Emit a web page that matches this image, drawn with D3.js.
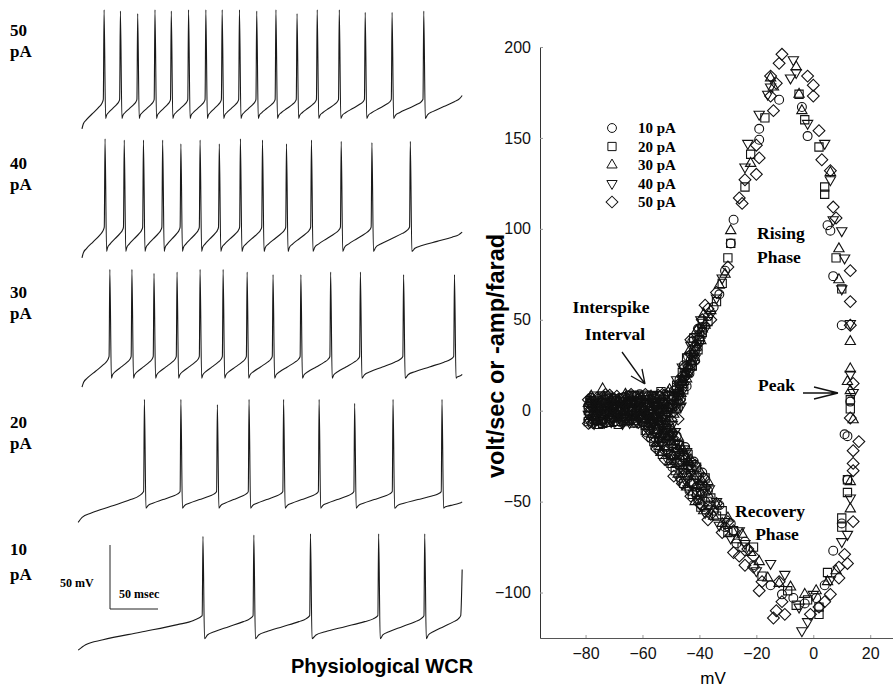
<!DOCTYPE html>
<html>
<head>
<meta charset="utf-8">
<script src="https://cdn.jsdelivr.net/npm/d3@7"></script>
<style>
  body { margin: 0; background: #fff; }
  svg { display: block; }
</style>
</head>
<body>
<svg id="chart" width="893" height="690"></svg>
<script>
"use strict";

// ---------- Left: whole-cell current-clamp traces (time in ms, V in mV) ----------
const currents = ['50', '40', '30', '20', '10'];   // pA, top to bottom

// Spike times (ms)
const spikes50 = [23, 40, 58, 76, 93, 111, 129, 146, 164, 182, 202, 224, 245, 268, 295, 323, 356];
const spikes40 = [24, 44, 64, 84, 103, 123, 143, 165, 188, 213, 239, 270, 302, 342];
const spikes30 = [29, 52, 75, 99, 123, 147, 172, 199, 228, 259, 290, 335, 388];
const spikes20 = [65, 103, 141, 174, 210, 247, 284, 324, 375];
const spikes10 = [126, 179, 238, 309, 357];

// Spike peak voltages (mV)
const peaks50 = [21, 20, 18, 21, 20, 21, 21, 21, 21, 20, 21, 18, 21, 21, 19, 19, 20];
const peaks40 = [21, 20, 20, 20, 17, 20, 17, 21, 20, 17, 20, 19, 18, 19];
const peaks30 = [22, 22, 19, 20, 22, 22, 20, 18, 18, 20, 20, 18, 18];
const peaks20 = [22, 22, 18, 22, 22, 22, 19, 22, 22];
const peaks10 = [19, 20, 21, 21, 21];

const thresholds = [-49, -48, -46, -50, -43];   // mV just before each upstroke
const troughs = [-64, -67, -63, -63, -61];       // after-hyperpolarisation (mV)
const traceStarts = [[0, -72], [0, -72], [0, -70], [-4, -74], [-4, -70]];
const traceTails = [
  [[396, -46]],
  [[396, -52]],
  [[396, -60]],
  [[396, -58]],
  [[394.5, -43], [396, -7]]           // 10 pA ends on the start of a spike
];
// Shape of the interspike ramp (fraction of interval, fraction of rise)
const rampShape = [[0, 0], [0.06, 0.16], [0.2, 0.3], [0.5, 0.52], [0.8, 0.74], [0.93, 0.86], [1, 1]];

// ---------- Right: phase plot points [mV, volt/sec] ----------
const pts10 = [
  [-79,-5],[-79,2],[-78,7],[-77,-1],[-76,4],[-75,-6],[-74,1],[-73,6],[-72,-3],[-71,3],
  [-70,-6],[-69,1],[-68,7],[-67,-2],[-66,4],[-65,8],[-64,-5],[-63,1],[-62,5],[-61,-3],
  [-60,-6],[-59,3],[-58,8],[-57,-2],[-56,2],[-55,7],[-54,-1],[-53,4],[-52,9],[-51,2],
  [-50,6],[-49,11],[-48,4],[-47,9],[-46,14],[-61,9],
  [-78.5,-2.5],[-77.5,3.5],[-76.5,-5.5],[-75.5,6.5],[-74.5,-1.5],[-73.5,3.5],[-72.5,-6.5],[-71.5,0.5],
  [-70.5,5.5],[-69.5,-3.5],[-68.5,2.5],[-67.5,-6.5],[-66.5,7.5],[-65.5,-1.5],[-64.5,4.5],[-63.5,-4.5],
  [-62.5,1.5],[-61.5,6.5],[-60.5,-2.5],[-59.5,4.5],[-58.5,-4.5],[-57.5,6.5],[-56.5,-5.5],[-55.5,2.5],
  [-54.5,-5.5],[-53.5,0.5],[-52.5,6.5],[-51.5,-3.5],[-50.5,-8.5],[-49.5,-12.5],[-48.5,-16.5],[-52.5,-11.5],
  [-47.5,1.5],[-46.5,6.5],[-44.5,13.5],[-43.5,20.5],[-41.5,27.5],
  [-47,17],[-45.5,25],[-44,30],[-42.5,38],[-40.5,45],
  [-45,19],[-44,24],[-43,28],[-42,33],[-41,37],[-40,42],[-39,46],[-37,52],[-35,57],[-33,64],[-31,77],[-29,92],
  [-28,105],[-19,149],[-19,155],[-12,171],[-4,167],[-2,151],[5,102],[6,99],
  [7,74],[10,47],[12,-14],[11,-13],[13,5],[7,-77],[10,-62],[12,-38],
  [4,-96],[1,-103],[-3,-106],[-7,-103],[-11,-101],[-15,-96],
  [-57,-7],[-55,-12],[-54,-8],[-53,-17],[-51,-14],[-50,-24],[-48,-21],[-47,-30],[-45,-26],[-44,-37],
  [-43,-31],[-41,-42],[-40,-36],[-38,-50],[-37,-44],[-35,-55],[-33,-52],[-31,-64],[-29,-62],[-27,-73],
  [-24,-72],[-21,-85],
  [-58.5,-12],[-57,-15],[-55.5,-20],[-54,-22],[-52.5,-8],[-51,-26],[-49.5,-31],[-48,-14],[-46.5,-37],
  [-45,-20],[-43.5,-44],[-42,-28],[-40.5,-49],[-39,-34],[-37.5,-56]
];
const pts20 = [
  [-79,0],[-79,-6],[-78,4],[-77,8],[-76,-3],[-75,2],[-74,-7],[-73,4],[-72,8],[-71,-1],
  [-70,3],[-69,-4],[-68,2],[-67,7],[-66,-6],[-65,0],[-64,4],[-63,-3],[-62,8],[-61,1],
  [-60,-4],[-59,6],[-58,0],[-57,-7],[-56,4],[-55,-3],[-54,8],[-53,1],[-52,-5],[-51,6],
  [-50,-1],[-49,8],[-48,1],[-47,12],[-59,-8],[-71,7],
  [-78.5,5.5],[-77.5,-4.5],[-76.5,1.5],[-75.5,-7.5],[-74.5,7.5],[-73.5,-0.5],[-72.5,4.5],[-71.5,-4.5],
  [-70.5,-0.5],[-69.5,6.5],[-68.5,-7.5],[-67.5,0.5],[-66.5,3.5],[-65.5,-4.5],[-64.5,8.5],[-63.5,0.5],
  [-62.5,-5.5],[-61.5,4.5],[-60.5,1.5],[-59.5,-2.5],[-58.5,8.5],[-57.5,2.5],[-56.5,-1.5],[-55.5,6.5],
  [-54.5,-1.5],[-53.5,10.5],[-52.5,3.5],[-51.5,-7.5],[-50.5,-13.5],[-49.5,2.5],[-48.5,-20.5],[-47.5,8.5],
  [-45.5,-24.5],[-45.5,11.5],[-42.5,24.5],[-40.5,33.5],
  [-48,14],[-46,21],[-44.5,29],[-42,40],[-39,48],
  [-46,15],[-44,21],[-43,25],[-42,30],[-40,39],[-39,43],[-37,49],[-34,60],[-32,70],[-30,84],
  [-29,92],[-24,123],[-22,141],[-17,161],[-5,174],[-3,160],[2,145],[4,123],
  [4,119],[8,84],[10,67],[13,1],[13,6],[12,-38],[12,-45],[10,-59],[10,-64],
  [5,-89],[2,-108],[2,-112],[-2,-104],[-6,-107],[-9,-99],
  [-56,-10],[-54,-15],[-52,-11],[-51,-20],[-49,-18],[-47,-27],[-46,-34],[-44,-30],[-42,-40],[-41,-45],
  [-39,-41],[-37,-52],[-36,-48],[-34,-58],[-32,-55],[-30,-67],[-28,-66],[-25,-75],[-21,-75],[-18,-91],
  [-59,-11],[-57.5,-4],[-56,-17],[-54.5,-19],[-53,-24],[-51.5,-10],[-50,-29],[-48.5,-33],[-47,-19],
  [-45.5,-40],[-44,-24],[-42.5,-46],[-41,-31],[-39.5,-53],[-38,-37]
];
const pts30 = [
  [-79,4],[-78,-3],[-78,8],[-77,1],[-76,-6],[-75,5],[-74,-2],[-73,2],[-72,-7],[-71,6],
  [-70,0],[-69,5],[-68,-4],[-67,2],[-66,-1],[-65,-6],[-64,7],[-63,-2],[-62,2],[-61,6],
  [-60,-1],[-59,-5],[-58,4],[-57,8],[-56,-3],[-55,3],[-54,-6],[-53,7],[-52,0],[-51,10],
  [-50,3],[-49,-2],[-48,7],[-47,5],[-74,12],[-66,9],
  [-78.5,0.5],[-77.5,6.5],[-76.5,-2.5],[-75.5,2.5],[-74.5,-5.5],[-73.5,7.5],[-72.5,1.5],[-71.5,-2.5],
  [-70.5,3.5],[-69.5,-6.5],[-68.5,5.5],[-67.5,-3.5],[-66.5,0.5],[-65.5,5.5],[-64.5,-2.5],[-63.5,3.5],
  [-62.5,-7.5],[-61.5,-0.5],[-60.5,7.5],[-59.5,1.5],[-58.5,-1.5],[-57.5,-5.5],[-56.5,5.5],[-55.5,-7.5],
  [-54.5,4.5],[-53.5,-2.5],[-52.5,-8.5],[-51.5,1.5],[-50.5,11.5],[-49.5,-10.5],[-48.5,1.5],[-47.5,-14.5],
  [-46.5,-19.5],[-46.5,9.5],[-44.5,17.5],[-43.5,-28.5],[-39.5,38.5],
  [-47.5,11],[-45.5,16],[-43.5,33],[-41,44],[-38.5,53],
  [-46,17],[-45,21],[-43,27],[-42,32],[-41,35],[-39,45],[-38,47],[-36,55],[-33,69],[-31,75],
  [-29,99],[-22,136],[-15,183],[-14,178],[-5,174],[-4,165],[-6,189],[6,131],[9,89],
  [9,72],[13,38],[13,23],[12,16],[13,11],[14,-5],[13,-39],[13,-54],[8,-88],
  [5,-94],[1,-99],[-3,-101],[-8,-97],[-12,-95],[-16,-92],
  [-55,-11],[-53,-14],[-52,-20],[-50,-17],[-49,-25],[-47,-23],[-45,-33],[-44,-28],[-42,-36],[-40,-47],
  [-39,-39],[-37,-46],[-35,-58],[-34,-52],[-32,-62],[-30,-59],[-27,-71],[-25,-68],[-22,-78],[-19,-83],
  [-58,-7],[-56.5,-13],[-55,-18],[-53.5,-23],[-52,-13],[-50.5,-28],[-49,-15],[-47.5,-35],[-46,-22],
  [-44.5,-42],[-43,-27],[-41.5,-50],[-40,-33],[-38.5,-55],[-37,-39]
];
const pts40 = [
  [-79,-2],[-78,3],[-77,-7],[-77,6],[-76,1],[-75,-4],[-74,5],[-73,-1],[-72,3],[-71,-6],
  [-70,7],[-69,-2],[-68,3],[-67,-7],[-66,1],[-65,5],[-64,-2],[-63,6],[-62,-6],[-61,3],
  [-60,8],[-59,-1],[-58,-5],[-57,5],[-56,-7],[-55,1],[-54,5],[-53,-4],[-52,3],[-51,-2],
  [-50,9],[-49,4],[-48,9],[-46,11],[-63,9],[-56,9],
  [-78.5,-6.5],[-77.5,0.5],[-76.5,5.5],[-75.5,-1.5],[-74.5,2.5],[-73.5,-5.5],[-72.5,7.5],[-71.5,3.5],
  [-70.5,-3.5],[-69.5,2.5],[-68.5,-1.5],[-67.5,5.5],[-66.5,-3.5],[-65.5,1.5],[-64.5,-6.5],[-63.5,5.5],
  [-62.5,3.5],[-61.5,-4.5],[-60.5,4.5],[-59.5,-6.5],[-58.5,2.5],[-57.5,-2.5],[-56.5,8.5],[-55.5,-3.5],
  [-54.5,0.5],[-53.5,5.5],[-52.5,-4.5],[-51.5,8.5],[-50.5,1.5],[-49.5,-7.5],[-48.5,-11.5],[-47.5,-18.5],
  [-46.5,2.5],[-45.5,16.5],[-44.5,-22.5],[-42.5,-32.5],[-41.5,31.5],
  [-48,17],[-46,24],[-43,36],[-41.5,29],[-39.5,50],
  [-47,14],[-45,20],[-44,23],[-43,30],[-41,39],[-40,37],[-38,45],[-36,53],[-34,62],[-32,73],
  [-19,163],[-23,147],[-24,134],[-16,174],[-15,178],[-7,193],[-6,186],[-8,183],[-2,158],[4,147],[6,127],
  [7,105],[10,99],[11,84],[10,67],[13,48],[13,20],[14,10],[13,-48],[12,-68],[10,-72],
  [-4,-121],[-2,-116],[0,-101],[-5,-108],[-15,-84],[-10,-90],[6,-93],
  [-56,-6],[-55,-14],[-53,-19],[-51,-16],[-50,-26],[-48,-24],[-46,-32],[-45,-38],[-43,-35],[-41,-48],
  [-40,-41],[-38,-44],[-36,-54],[-34,-50],[-33,-63],[-31,-61],[-29,-70],[-26,-66],[-24,-73],[-20,-88],
  [-57.5,-12],[-56,-3],[-54.5,-16],[-53,-9],[-51.5,-23],[-50,-13],[-48.5,-28],[-47,-38],[-45.5,-21],
  [-44,-43],[-42.5,-29],[-41,-38],[-39.5,-45],[-38,-56],[-36.5,-43]
];
const pts50 = [
  [-79,6],[-79,-7],[-78,1],[-77,-4],[-76,7],[-75,0],[-74,-4],[-73,9],[-72,1],[-71,-5],
  [-70,4],[-69,8],[-68,-1],[-67,4],[-66,-4],[-65,2],[-64,9],[-63,-6],[-62,0],[-61,5],
  [-60,1],[-59,9],[-58,-3],[-57,2],[-56,7],[-55,-5],[-54,2],[-53,9],[-52,-2],[-51,4],
  [-50,-5],[-49,2],[-48,12],[-47,6],[-58,-10],[-54,-9],
  [-78.5,3.5],[-77.5,-6.5],[-76.5,3.5],[-75.5,-3.5],[-74.5,0.5],[-73.5,-6.5],[-72.5,-1.5],[-71.5,8.5],
  [-70.5,1.5],[-69.5,-5.5],[-68.5,4.5],[-67.5,-0.5],[-66.5,-5.5],[-65.5,6.5],[-64.5,0.5],[-63.5,-2.5],
  [-62.5,7.5],[-61.5,-6.5],[-60.5,-4.5],[-59.5,0.5],[-58.5,5.5],[-57.5,-7.5],[-56.5,0.5],[-55.5,4.5],
  [-54.5,8.5],[-53.5,-5.5],[-52.5,-14.5],[-51.5,-0.5],[-50.5,-10.5],[-49.5,6.5],[-48.5,-23.5],[-47.5,-4.5],
  [-46.5,-27.5],[-44.5,-31.5],[-43.5,22.5],[-41.5,35.5],[-40.5,-41.5],
  [-47,15],[-44.5,20],[-43,39],[-40,45],[-38,58],
  [-46,19],[-45,24],[-43,31],[-42,27],[-40,40],[-39,50],[-37,56],[-36,50],[-34,65],[-30,79],
  [-11,196],[-12,191],[-15,184],[-13,180],[-15,173],[-14,165],[-20,146],[-19,139],[-20,130],[-24,127],
  [-25,114],[-26,117],[-2,184],[0,179],[0,173],[2,154],
  [3,138],[6,132],[7,112],[8,106],[13,77],[13,60],[13,47],[14,15],[13,-4],[16,-17],[14,-22],[14,-29],[14,-33],[14,-61],
  [11,-79],[12,-84],[9,-86],[9,-92],[6,-101],[4,-105],[2,-108],[-1,-112],
  [-13,-110],[-14,-114],[-10,-112],[-11,-105],[-19,-99],[-18,-94],[-12,-94],[-21,-86],[-28,-78],[-24,-85],
  [-57,-10],[-55,-16],[-53,-12],[-52,-22],[-50,-19],[-48,-29],[-46,-25],[-45,-35],[-43,-40],[-41,-36],
  [-39,-52],[-38,-42],[-36,-57],[-34,-51],[-32,-67],[-30,-61],[-28,-66],[-26,-80],[-23,-76],[-21,-80],
  [-58,-14],[-56.5,-6],[-55,-21],[-53.5,-14],[-52,-27],[-50.5,-16],[-49,-36],[-47.5,-22],[-46,-40],
  [-44.5,-26],[-43,-47],[-41.5,-30],[-40,-51],[-38.5,-37],[-37,-60]
];
const legendLabels = ['10 pA', '20 pA', '30 pA', '40 pA', '50 pA'];
const xTicks = [-80, -60, -40, -20, 0, 20];
const yTicks = [-100, -50, 0, 50, 100, 150, 200];

// ---------- Drawing ----------
const svg = d3.select('#chart');
const SERIF = '"Liberation Serif", "Times New Roman", serif';
const SANS = '"Liberation Sans", Arial, sans-serif';

// Traces
const spikeSets = [spikes50, spikes40, spikes30, spikes20, spikes10];
const peakSets = [peaks50, peaks40, peaks30, peaks20, peaks10];
const panelZero = [36.6, 165.6, 297.6, 427.6, 560.6];   // pixel row of 0 mV per panel
const xT = d3.scaleLinear().domain([0, 400]).range([82, 466]);  // 0.96 px per ms

function ramp(from, to) {
    // Fill the interspike segment with the ramp template
    return rampShape.slice(1).map(function (r) {
        return [from[0] + r[0] * (to[0] - from[0]), from[1] + r[1] * (to[1] - from[1])];
    });
}

function tracePoints(i) {
    let pts = [traceStarts[i]];
    let prev = traceStarts[i];
    spikeSets[i].forEach(function (t, k) {
        pts = pts.concat(ramp(prev, [t - 0.8, thresholds[i]]));
        pts.push([t, peakSets[i][k]]);
        prev = [t + 1.6, troughs[i]];
        pts.push(prev);
    });
    let tail = traceTails[i];
    pts = pts.concat(ramp(prev, tail[0]));
    return pts.concat(tail.slice(1));
}

const traceGroup = svg.append('g');
currents.forEach(function (c, i) {
    let yT = d3.scaleLinear().domain([-100, 0]).range([panelZero[i] + 128, panelZero[i]]);
    let line = d3.line()
        .x(function (d) { return xT(d[0]); })
        .y(function (d) { return yT(d[1]); })
        .curve(d3.curveMonotoneX);
    traceGroup.append('path')
        .attr('d', line(tracePoints(i)))
        .attr('fill', 'none')
        .attr('stroke', '#1a1a1a')
        .attr('stroke-width', 1.1);
});

// Panel labels
const labelRows = [[36, 57], [169, 190], [298, 319], [428, 449], [555, 580]];
currents.forEach(function (c, i) {
    let g = svg.append('g')
        .style('font-family', SERIF)
        .style('font-weight', 'bold')
        .style('font-size', '17px');
    g.append('text').attr('x', 10).attr('y', labelRows[i][0]).text(c);
    g.append('text').attr('x', 10).attr('y', labelRows[i][1]).text('pA');
});

// Scale bar (in 10 pA panel units)
const yBar = d3.scaleLinear().domain([-100, 0]).range([panelZero[4] + 128, panelZero[4]]);
const barX = 110, barY = 609;
const barW = xT(50) - xT(0), barH = yBar(-50) - yBar(0);
svg.append('path')
    .attr('d', 'M' + barX + ',' + (barY - barH) + 'V' + barY + 'H' + (barX + barW))
    .attr('fill', 'none')
    .attr('stroke', '#222')
    .attr('stroke-width', 1);
svg.append('text').attr('x', 60).attr('y', 587)
    .style('font-family', SERIF).style('font-weight', 'bold').style('font-size', '12px')
    .text('50 mV');
svg.append('text').attr('x', 119).attr('y', 598)
    .style('font-family', SERIF).style('font-weight', 'bold').style('font-size', '12px')
    .text('50 msec');

svg.append('text')
    .attr('x', 382).attr('y', 673)
    .attr('text-anchor', 'middle')
    .style('font-family', SANS).style('font-weight', 'bold').style('font-size', '20px')
    .text('Physiological WCR');

// Phase plot
const xP = d3.scaleLinear().domain([-96, 28]).range([540, 893]);
const yP = d3.scaleLinear().domain([-125, 200]).range([638, 47]);

const xAxis = d3.axisBottom(xP).tickValues(xTicks).tickSize(-3).tickSizeOuter(0).tickPadding(10);
const yAxis = d3.axisLeft(yP).tickValues(yTicks).tickSize(-3).tickSizeOuter(0).tickPadding(9);

svg.append('g')
    .attr('transform', 'translate(0,' + yP(-125) + ')')
    .call(xAxis)
    .call(function (g) {
        g.select('.domain').attr('stroke', '#555');
        g.selectAll('.tick line').attr('stroke', '#999');
        g.selectAll('text').style('font-family', SANS).style('font-size', '16px').attr('fill', '#111');
    });
svg.append('g')
    .attr('transform', 'translate(' + xP(-96) + ',0)')
    .call(yAxis)
    .call(function (g) {
        g.select('.domain').attr('stroke', '#333');
        g.selectAll('.tick line').attr('stroke', '#999');
        g.selectAll('text').style('font-family', SANS).style('font-size', '16px').attr('fill', '#111');
    });

svg.append('text')
    .attr('x', 713).attr('y', 684)
    .attr('text-anchor', 'middle')
    .style('font-family', SANS).style('font-size', '17px')
    .text('mV');
svg.append('text')
    .attr('transform', 'translate(504,356) rotate(-90)')
    .attr('text-anchor', 'middle')
    .style('font-family', SANS).style('font-weight', 'bold').style('font-size', '23.5px')
    .text('volt/sec or -amp/farad');

const series = [
    {pts: pts10, sym: d3.symbolCircle, size: 62, rot: 0},
    {pts: pts20, sym: d3.symbolSquare, size: 68, rot: 0},
    {pts: pts30, sym: d3.symbolTriangle, size: 46, rot: 0},
    {pts: pts40, sym: d3.symbolTriangle, size: 46, rot: 180},
    {pts: pts50, sym: d3.symbolSquare, size: 70, rot: 45}
];

const plotGroup = svg.append('g');
series.forEach(function (s) {
    let shape = d3.symbol(s.sym, s.size)();
    plotGroup.append('g').selectAll('path')
      .data(s.pts)
      .join('path')
        .attr('d', shape)
        .attr('transform', function (d) {
            return 'translate(' + xP(d[0]) + ',' + yP(d[1]) + ') rotate(' + s.rot + ')';
        })
        .attr('fill', 'none')
        .attr('stroke', '#111')
        .attr('stroke-width', 1.1);
});

// Legend
const legend = svg.append('g');
series.forEach(function (s, i) {
    let y = 128 + i * 18.5;
    legend.append('path')
        .attr('d', d3.symbol(s.sym, s.size)())
        .attr('transform', 'translate(612,' + y + ') rotate(' + s.rot + ')')
        .attr('fill', 'none')
        .attr('stroke', '#111');
    legend.append('text')
        .attr('x', 638).attr('y', y + 5)
        .style('font-family', SERIF).style('font-weight', 'bold').style('font-size', '15px')
        .text(legendLabels[i]);
});

// Annotations
function note(x, y, txt, anchor) {
    svg.append('text')
        .attr('x', x).attr('y', y)
        .attr('text-anchor', anchor || 'start')
        .style('font-family', SERIF).style('font-weight', 'bold').style('font-size', '17.5px')
        .text(txt);
}
note(757, 239, 'Rising');
note(757, 263, 'Phase');
note(611, 313, 'Interspike', 'middle');
note(615, 340, 'Interval', 'middle');
note(758, 391, 'Peak');
note(770, 517, 'Recovery', 'middle');
note(777, 540, 'Phase', 'middle');

// Arrows
const arrows = svg.append('g').attr('fill', 'none').attr('stroke', '#111').attr('stroke-width', 1.3);
arrows.append('path').attr('d', 'M622,352L645,384M645,384L631,376M645,384L642,369');
arrows.append('path').attr('d', 'M803,393L838,393M838,393L814,387M838,393L814,399');
</script>
</body>
</html>
